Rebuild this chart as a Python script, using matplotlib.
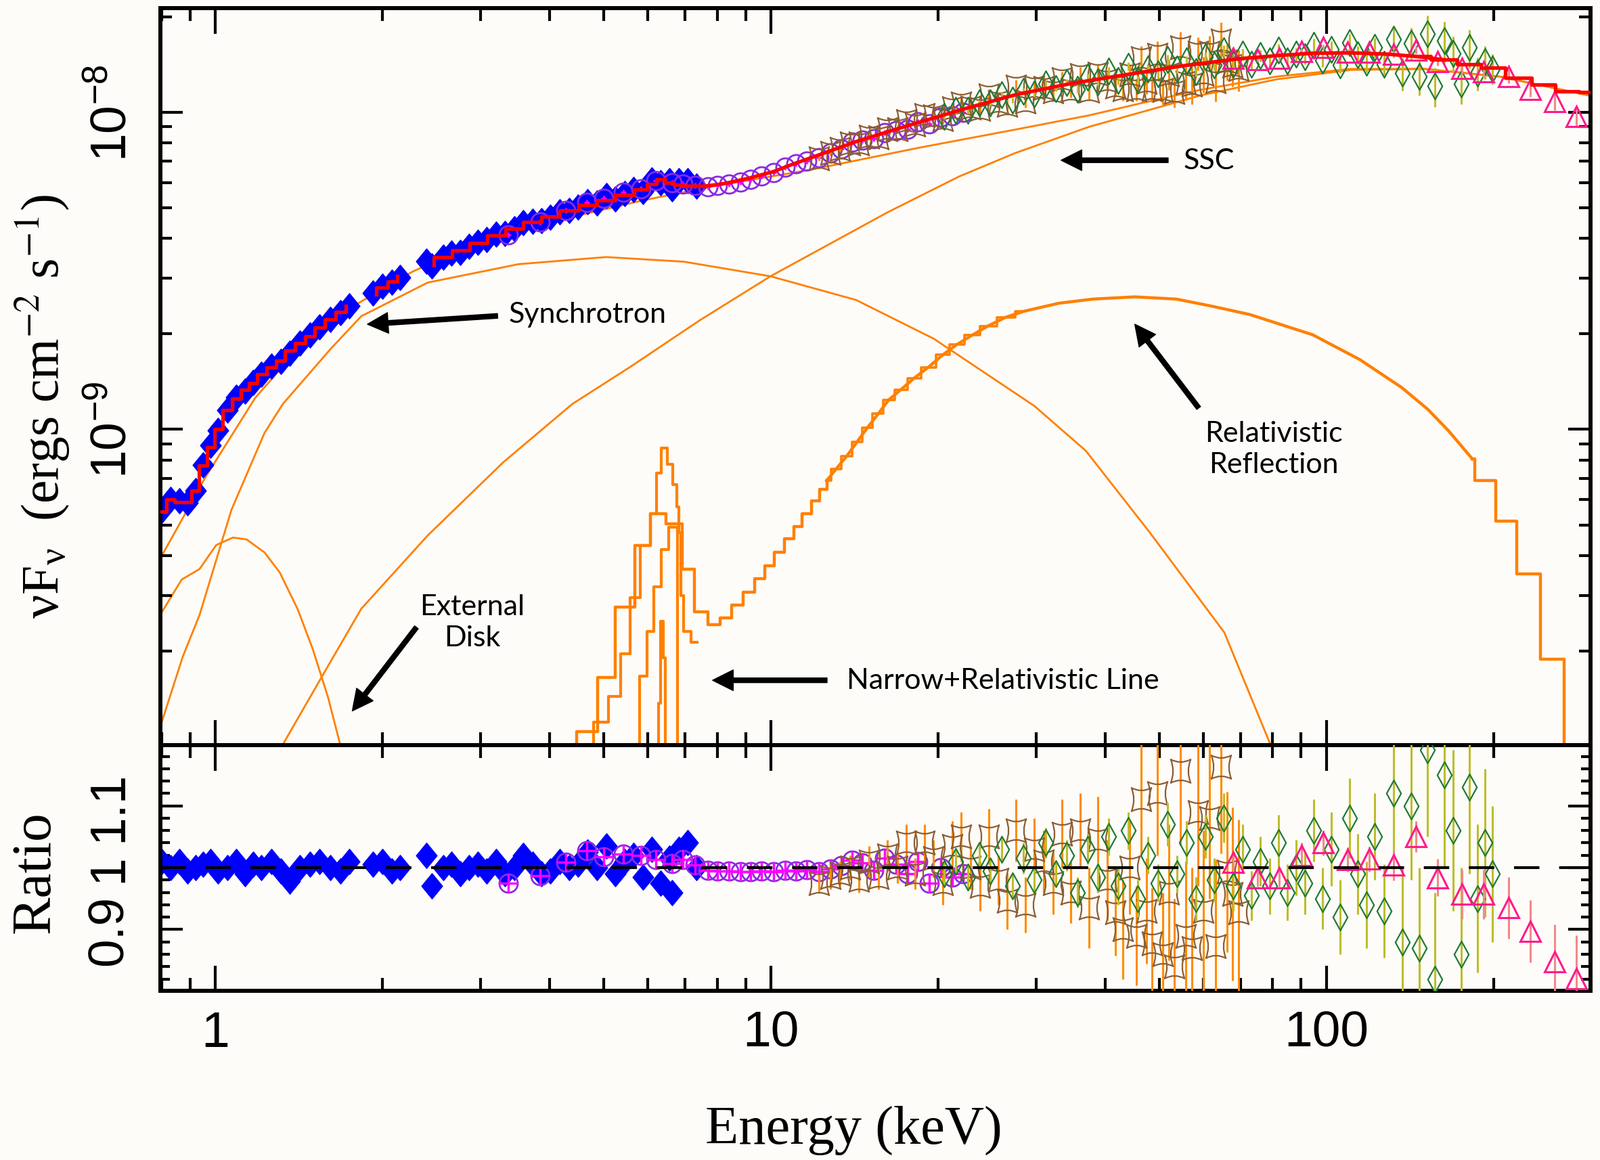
import numpy as np
import matplotlib.pyplot as plt
from matplotlib.path import Path
from matplotlib.ticker import FixedLocator, FixedFormatter, LogLocator, NullFormatter, MultipleLocator

plt.rcParams['font.family'] = ['Liberation Sans', 'DejaVu Sans']
plt.rcParams['mathtext.fontset'] = 'custom'
plt.rcParams['mathtext.rm'] = 'Liberation Sans'
plt.rcParams['mathtext.it'] = 'Liberation Sans:italic'

# ---- data (flux in units of 1e-9 erg cm^-2 s^-1) ----
blue_e = [0.80, 0.83, 0.86, 0.89, 0.92, 0.95, 0.98, 1.01, 1.05, 1.09, 1.13, 1.17, 1.21, 1.26, 1.31, 1.36,
          1.42, 1.48, 1.54, 1.61, 1.68, 1.74, 1.92, 2.00, 2.08, 2.15, 2.40, 2.45, 2.57, 2.66, 2.76, 2.86,
          2.97, 3.08, 3.20, 3.32, 3.45, 3.58, 3.72, 3.86, 4.01, 4.17, 4.33, 4.50, 4.68, 4.86, 5.05, 5.25,
          5.45, 5.66, 5.88, 6.10, 6.33, 6.57, 6.64, 6.82, 7.08, 7.35]
blue_flux = [0.556, 0.60, 0.596, 0.587, 0.64, 0.774, 0.889, 0.995, 1.15, 1.263, 1.317, 1.407, 1.49, 1.586,
             1.642, 1.735, 1.87, 1.98, 2.11, 2.22, 2.338, 2.454, 2.693, 2.828, 2.915, 3.02, 3.386, 3.272,
             3.50, 3.598, 3.623, 3.77, 3.899, 3.97, 4.121, 4.138, 4.29, 4.478, 4.523, 4.554, 4.677, 4.848,
             4.90, 5.025, 5.228, 5.17, 5.465, 5.326, 5.555, 5.712, 5.615, 6.129, 5.996, 6.09, 5.731, 6.077,
             6.084, 5.85]
blue_ratio = [1.01, 1.0, 1.01, 0.995, 1.0, 1.005, 1.01, 0.995, 1.0, 1.01, 0.99, 1.005, 1.0, 1.01, 0.995,
              0.978, 1.0, 1.005, 1.01, 1.0, 0.995, 1.01, 1.005, 1.01, 0.995, 1.0, 1.02, 0.971, 1.0, 1.005,
              0.99, 1.0, 1.005, 0.995, 1.01, 0.99, 1.0, 1.02, 1.005, 0.99, 0.995, 1.01, 1.0, 1.005, 1.025,
              1.0, 1.035, 0.99, 1.01, 1.02, 0.985, 1.03, 0.975, 1.015, 0.96, 1.03, 1.04, 1.0]

purple_e = [3.37, 3.84, 4.27, 4.66, 5.0, 5.43, 5.84, 6.2, 6.64, 6.95, 7.3, 7.7, 8.0, 8.4, 8.8, 9.2, 9.6,
            10.1, 10.6, 11.1, 11.6, 12.2, 12.8, 13.4, 14.0, 14.6, 15.3, 16.0, 16.8, 17.6, 18.4, 19.3,
            20.2, 21.2, 22.2]
purple_flux = [4.1, 4.5, 4.9, 5.2, 5.35, 5.6, 5.75, 6.1, 6.0, 5.95, 5.87, 5.83, 5.87, 5.95, 6.03, 6.16,
               6.3, 6.47, 6.7, 6.87, 7.03, 7.2, 7.43, 7.67, 8.05, 8.17, 8.27, 8.63, 8.75, 8.86, 9.34,
               9.21, 9.65, 9.75, 10.0]
purple_ratio = [0.975, 0.987, 1.009, 1.027, 1.018, 1.022, 1.02, 1.013, 1.007, 1.013, 1.004, 0.996, 0.995,
                0.995, 0.993, 0.993, 0.995, 0.994, 0.996, 0.995, 0.997, 0.993, 0.998, 1.003, 1.012, 1.008,
                0.996, 1.015, 1.006, 0.99, 1.01, 0.975, 1.0, 0.985, 0.99]

brown_e = [12.2, 12.8, 13.3, 13.9, 14.4, 15.0, 15.6, 16.2, 16.9, 17.5, 18.2, 18.9, 19.6, 20.4, 21.2, 22.0,
           22.9, 23.8, 24.7, 25.7, 26.6, 27.6, 28.7, 29.8, 31.0, 32.2, 33.4, 34.7, 36.0, 37.4, 38.8, 40.3,
           41.7, 43.0, 44.2, 45.5, 46.4, 47.5, 48.5, 49.6, 50.8, 52.0, 53.3, 54.6, 55.9, 57.3, 58.7, 60.1,
           61.6, 63.1, 64.6, 66.2, 67.8, 69.4]
brown_flux = [7.16, 7.45, 7.66, 7.96, 7.96, 8.38, 8.35, 8.83, 8.86, 9.38, 9.13, 9.78, 9.71, 9.52, 10.30,
              10.65, 10.35, 10.23, 11.28, 10.74, 10.55, 12.04, 10.81, 12.0, 11.92, 11.64, 12.74, 11.74,
              13.11, 11.72, 13.25, 12.57, 12.05, 11.79, 13.19, 11.83, 14.82, 12.49, 11.84, 15.2, 11.74,
              13.18, 11.6, 16.05, 12.42, 12.21, 15.4, 13.22, 15.43, 12.55, 16.82, 14.45, 14.01, 13.68]
brown_ratio = [0.975, 0.985, 0.99, 1.0, 0.98, 1.01, 0.985, 1.02, 1.0, 1.04, 0.99, 1.04, 1.015, 0.975, 1.035,
               1.05, 1.0, 0.97, 1.05, 0.98, 0.946, 1.06, 0.94, 1.03, 1.01, 0.975, 1.055, 0.96, 1.06, 0.935,
               1.045, 0.98, 0.928, 0.90, 1.0, 0.89, 1.11, 0.93, 0.877, 1.12, 0.86, 0.96, 0.84, 1.156, 0.89,
               0.87, 1.09, 0.93, 1.08, 0.873, 1.163, 0.993, 0.957, 0.928]
brown_err = [0.015, 0.02, 0.02, 0.02, 0.02, 0.025, 0.02, 0.025, 0.025, 0.03, 0.025, 0.03, 0.03, 0.035, 0.04,
             0.04, 0.035, 0.04, 0.045, 0.04, 0.045, 0.05, 0.045, 0.05, 0.05, 0.05, 0.055, 0.05, 0.06, 0.065,
             0.07, 0.065, 0.07, 0.08, 0.075, 0.08, 0.09, 0.085, 0.09, 0.1, 0.1, 0.11, 0.11, 0.12, 0.12, 0.13,
             0.12, 0.13, 0.13, 0.14, 0.14, 0.13, 0.14, 0.15]

green_e = [20.5, 21.5, 22.6, 23.7, 24.8, 26.0, 27.2, 28.5, 29.8, 31.2, 32.6, 34.1, 35.6, 37.2, 38.8, 40.5,
           42.2, 44.0, 45.8, 47.7, 49.7, 51.7, 53.8, 56.0, 58.2, 60.5, 62.9, 65.4, 68.0, 70.6, 73.3, 76.1,
           79.0, 82.0, 85.1, 88.3, 91.6, 95.0, 98.5, 102, 106, 110, 114, 118, 122, 127, 132, 137, 142, 147,
           152, 157, 163, 169, 175, 181, 187, 193, 199]
green_flux = [9.69, 10.12, 10.12, 10.73, 10.72, 11.35, 10.93, 11.65, 11.42, 12.29, 11.86, 12.4, 11.84, 12.88,
              12.49, 13.48, 12.62, 13.96, 12.65, 13.71, 13.2, 14.63, 13.68, 14.54, 13.41, 14.95, 14.07, 15.66,
              14.2, 15.22, 14.18, 15.07, 14.55, 15.68, 14.54, 15.22, 14.92, 16.28, 14.59, 15.82, 14.12, 16.56,
              15.16, 14.37, 16.03, 14.18, 17.0, 13.29, 16.5, 12.98, 17.67, 12.1, 16.81, 15.32, 12.3, 15.99,
              13.3, 14.46, 13.71]
green_ratio = [0.99, 1.01, 0.985, 1.02, 0.995, 1.03, 0.97, 1.015, 0.98, 1.04, 0.99, 1.02, 0.96, 1.03, 0.985,
               1.05, 0.97, 1.06, 0.95, 1.02, 0.975, 1.07, 0.99, 1.04, 0.95, 1.05, 0.98, 1.08, 0.97, 1.03,
               0.955, 1.01, 0.97, 1.04, 0.96, 1.0, 0.975, 1.06, 0.95, 1.03, 0.92, 1.08, 0.99, 0.94, 1.05, 0.93,
               1.12, 0.88, 1.10, 0.87, 1.19, 0.82, 1.15, 1.06, 0.86, 1.13, 0.95, 1.04, 0.99]
green_err = [0.02, 0.02, 0.02, 0.02, 0.02, 0.02, 0.02, 0.025, 0.02, 0.025, 0.02, 0.025, 0.025, 0.025, 0.025,
             0.03, 0.03, 0.03, 0.03, 0.03, 0.03, 0.035, 0.03, 0.035, 0.035, 0.035, 0.035, 0.04, 0.04, 0.04,
             0.04, 0.04, 0.045, 0.045, 0.045, 0.045, 0.05, 0.05, 0.05, 0.06, 0.06, 0.065, 0.065, 0.07, 0.07,
             0.075, 0.1, 0.12, 0.12, 0.13, 0.14, 0.14, 0.15, 0.13, 0.14, 0.14, 0.12, 0.12, 0.11]

pink_e = [67.9, 75.1, 82.3, 90.1, 98.6, 109.1, 119.4, 132.3, 144.8, 158.5, 175.5, 192, 212.7, 232.8, 257.8, 282.2]
pink_flux = [14.8, 14.7, 14.8, 15.55, 16.0, 15.5, 15.5, 15.26, 15.7, 14.47, 13.73, 13.4, 13.0, 11.8, 10.8, 9.7]
pink_ratio = [1.009, 0.984, 0.984, 1.02, 1.04, 1.013, 1.014, 1.004, 1.05, 0.984, 0.957, 0.957, 0.935, 0.897,
              0.848, 0.821]
pink_err = [0.015, 0.015, 0.015, 0.02, 0.02, 0.02, 0.02, 0.025, 0.025, 0.03, 0.04, 0.04, 0.05, 0.05, 0.06, 0.07]

# total folded model (red)
model_e = [0.80, 0.83, 0.86, 0.89, 0.92, 0.95, 0.98, 1.01, 1.05, 1.09, 1.13, 1.17, 1.21, 1.26, 1.31, 1.36,
           1.42, 1.48, 1.54, 1.61, 1.68, 1.75, np.nan, 1.90, 2.00, 2.08, 2.17, np.nan, 2.38, 2.57, 2.76,
           2.97, 3.20, 3.45, 3.72, 4.01, 4.33, 4.68, 5.05, 5.45, 5.88, 6.10, 6.33, 6.57, 6.82, 7.08, 7.6, 8.2,
           9.1, 10.1, 10.9, 12.5, 14.2, 16.3, 18.6, 22.5, 27.5, 34.5, 43.7, 55, 69.5, 82, 94.6, 111, 129,
           145, 163, 181, 199, 221, 247, 270, 300]
model_flux = [0.55, 0.60, 0.59, 0.59, 0.64, 0.77, 0.88, 1.0, 1.15, 1.25, 1.33, 1.40, 1.49, 1.57, 1.65, 1.77,
              1.87, 1.97, 2.09, 2.22, 2.35, 2.45, np.nan, 2.66, 2.80, 2.93, 3.04, np.nan, 3.30, 3.50, 3.66,
              3.88, 4.08, 4.29, 4.50, 4.70, 4.90, 5.10, 5.28, 5.50, 5.70, 5.95, 6.15, 6.0, 5.9, 5.85, 5.85,
              5.95, 6.19, 6.5, 6.84, 7.45, 8.07, 8.7, 9.33, 10.3, 11.35, 12.3, 13.15, 14.0, 14.75, 15.1,
              15.36, 15.4, 15.25, 15.0, 14.64, 14.2, 13.85, 12.86, 12.2, 11.64, 11.6]

# model components (orange)
cont_e = [0.796, 0.859, 0.954, 1.179, 1.457, 1.784, 2.26, 2.75, 3.40, 4.37, 5.81, 7.61, 11.9, 18.4, 27.54,
          37.4, 46.6, 59.3, 81.3, 110.5, 150.3, 205, 300]
cont_flux = [0.393, 0.499, 0.696, 1.258, 1.919, 2.467, 3.14, 3.68, 4.11, 4.67, 5.25, 5.78, 6.61, 7.72, 8.82,
             9.78, 10.7, 11.77, 12.96, 13.7, 13.7, 12.96, 11.26]
sync_e = [0.796, 0.873, 0.936, 1.068, 1.225, 1.322, 1.612, 1.830, 2.41, 3.51, 5.05, 6.97, 9.98, 14.23, 19.63,
          29.8, 36.9, 48.1, 65.5, 79.3]
sync_flux = [0.116, 0.192, 0.260, 0.557, 0.974, 1.203, 1.795, 2.275, 2.904, 3.319, 3.495, 3.38, 3.04, 2.56,
             1.933, 1.186, 0.856, 0.473, 0.229, 0.1015]
disk_e = [0.796, 0.869, 0.936, 1.003, 1.075, 1.137, 1.225, 1.305, 1.406, 1.497, 1.594, 1.676]
disk_flux = [0.261, 0.336, 0.363, 0.432, 0.456, 0.450, 0.4095, 0.354, 0.271, 0.2025, 0.1432, 0.1018]
ssc_e = [1.322, 1.575, 1.830, 2.41, 3.30, 4.39, 5.57, 7.45, 9.98, 16.23, 21.8, 27.54, 37.4, 51.2, 59.3, 81.3,
         110.5, 150.3, 205, 300]
ssc_flux = [0.1015, 0.173, 0.272, 0.463, 0.789, 1.203, 1.571, 2.21, 3.04, 4.84, 6.27, 7.44, 9.0, 10.5, 11.3,
            12.7, 13.6, 13.7, 12.96, 11.26]
refl_lo_e = [4.0, 4.47, 4.88, 5.25, 5.69, 6.06, 6.47, 6.92, 7.29, 7.71, 8.09, 8.50, 8.92, 9.34, 9.75, 10.15,
             10.57, 11.0, 11.36, 11.83, 12.22, 12.62]
refl_lo_flux = [0.05, 0.1113, 0.165, 0.2748, 0.4301, 0.5417, 0.5029, 0.362, 0.2654, 0.2424, 0.2547, 0.2789,
                0.3073, 0.339, 0.3707, 0.4091, 0.4516, 0.4942, 0.5417, 0.5965, 0.647, 0.69]
refl_mid_e = [12.6, 13.1, 13.7, 14.3, 14.9, 15.6, 16.3, 17.1, 18.1, 19.2, 20.4, 21.6, 23.0, 24.6, 26.5, 28.6,
              33.0, 37.96, 45.16, 53.7, 62.0, 72.8, 94.5, 114.9, 136.6, 152.3, 166.1, 183.2]
refl_mid_flux = [0.69, 0.75, 0.825, 0.915, 1.01, 1.12, 1.24, 1.33, 1.45, 1.57, 1.72, 1.85, 1.98, 2.12, 2.26,
                 2.36, 2.50, 2.576, 2.618, 2.576, 2.45, 2.303, 1.988, 1.66, 1.356, 1.157, 0.988, 0.807]
refl_hi_e = [183.2, 185.2, 202, 220.3, 242.9, 267.9, 300]
refl_hi_flux = [0.807, 0.689, 0.514, 0.3504, 0.1884, 0.05, 0.05]
line_a_e = [4.68, 4.92, 5.29, 5.45, 5.69, 5.96, 6.16, 6.27, 6.43, 6.57, 6.74, 6.79, 6.85, 6.91, 7.0, 7.36]
line_a_flux = [0.1015, 0.1195, 0.1437, 0.1962, 0.2947, 0.4301, 0.5417, 0.727, 0.875, 0.777, 0.670, 0.5693,
               0.4733, 0.2991, 0.2308, 0.2128]
line_b_e = [5.5, 5.6, 5.8, 5.98, 6.16, 6.35, 6.54, 6.79]
line_b_flux = [0.08, 0.1015, 0.1667, 0.2308, 0.3197, 0.4174, 0.4913, 0.05]
line_c_e = [6.15, 6.27, 6.33, 6.40, 6.45]
line_c_flux = [0.05, 0.137, 0.2485, 0.19, 0.05]

# ---- styles ----
BG = '#fefcf9'
ORANGE = '#ff8000'
e9 = 1e-9

diamond = Path([(0, 1), (0.82, 0), (0, -1), (-0.82, 0), (0, 1)],
               [Path.MOVETO, Path.LINETO, Path.LINETO, Path.LINETO, Path.CLOSEPOLY])
thin_diamond = Path([(0, 1), (0.55, 0), (0, -1), (-0.55, 0), (0, 1)],
                    [Path.MOVETO, Path.LINETO, Path.LINETO, Path.LINETO, Path.CLOSEPOLY])
C3 = Path.CURVE3
star = Path([(-0.85, 1), (0, 0.55), (0.85, 1), (0.45, 0), (0.85, -1), (0, -0.55), (-0.85, -1),
             (-0.45, 0), (-0.85, 1), (0, 0)],
            [Path.MOVETO, C3, C3, C3, C3, C3, C3, C3, C3, Path.CLOSEPOLY])

fig = plt.figure(figsize=(23.64, 17.15), dpi=100, facecolor=BG)
ax = fig.add_axes([0.1003, 0.3574, 0.8938, 0.6350])
axr = fig.add_axes([0.1003, 0.1458, 0.8938, 0.2116], sharex=ax)

# ---- top panel ----
for xe, yf in [(cont_e, cont_flux), (sync_e, sync_flux), (disk_e, disk_flux), (ssc_e, ssc_flux)]:
    ax.plot(xe, np.array(yf) * e9, color=ORANGE, lw=2.0, zorder=1)
ax.plot(refl_lo_e, np.array(refl_lo_flux) * e9, color=ORANGE, lw=3.2, drawstyle='steps-post', zorder=1)
ax.plot(refl_mid_e, np.array(refl_mid_flux) * e9, color=ORANGE, lw=3.2, zorder=1)
ax.plot(refl_mid_e[:16], np.array(refl_mid_flux[:16]) * e9, color=ORANGE, lw=2.6, drawstyle='steps-mid', zorder=1)
ax.plot(refl_hi_e, np.array(refl_hi_flux) * e9, color=ORANGE, lw=3.2, drawstyle='steps-post', zorder=1)
ax.plot(line_a_e, np.array(line_a_flux) * e9, color=ORANGE, lw=3.0, drawstyle='steps-mid', zorder=1)
ax.plot(line_b_e, np.array(line_b_flux) * e9, color=ORANGE, lw=3.0, drawstyle='steps-post', zorder=1)
ax.plot(line_c_e, np.array(line_c_flux) * e9, color=ORANGE, lw=3.0, drawstyle='steps-post', zorder=1)

bf = np.array(blue_flux) * e9
ax.plot(blue_e, bf, ls='none', marker=diamond, ms=27, mfc='#0000ff', mec='#0000ff', zorder=2)
pf = np.array(purple_flux) * e9
ax.plot(purple_e, pf, ls='none', marker='o', ms=19.5, mfc='none', mec='#8a2be2', mew=2, zorder=3)
ax.plot(purple_e, pf, ls='none', marker='+', ms=6, mec='#ff00ff', mew=2, zorder=3)
brf = np.array(brown_flux) * e9
ax.errorbar(brown_e, brf, yerr=brf * np.array(brown_err), fmt='none', ecolor='#ff8c00', elinewidth=2.2, zorder=3)
ax.plot(brown_e, brf, ls='none', marker=star, ms=25, mfc='none', mec='#8b5e34', mew=1.6, zorder=3)
gf = np.array(green_flux) * e9
ax.errorbar(green_e, gf, yerr=gf * np.array(green_err), fmt='none', ecolor='#bdbd2a', elinewidth=2.2, zorder=3)
ax.plot(green_e, gf, ls='none', marker=thin_diamond, ms=28, mfc='none', mec='#1f7a35', mew=1.6, zorder=3)
kf = np.array(pink_flux) * e9
ax.errorbar(pink_e, kf, yerr=kf * np.array(pink_err), fmt='none', ecolor='#f08a8a', elinewidth=2.2, zorder=3)
ax.plot(pink_e, kf, ls='none', marker='^', ms=21, mfc='none', mec='#ff1a8c', mew=2.2, zorder=3)

me = np.array(model_e)
mf = np.array(model_flux) * e9
lo = np.isnan(me) | (me <= 7.6)
mid = (me >= 7.08) & (me <= 163)
hi = me >= 145
ax.plot(me[lo], mf[lo], color='#ff0000', lw=3.8, drawstyle='steps-mid', zorder=4)
ax.plot(me[mid], mf[mid], color='#ff0000', lw=3.8, zorder=4)
ax.plot(me[hi], mf[hi], color='#ff0000', lw=3.8, drawstyle='steps-mid', zorder=4)

# annotations
afont = dict(family=['Lato', 'DejaVu Sans'], fontsize=31, color='k')
arrow = dict(facecolor='k', edgecolor='k', width=5, headwidth=22, headlength=22, shrink=0)
ax.annotate('', xy=(33.3, 7.06e-9), xytext=(51.9, 7.06e-9), arrowprops=arrow, zorder=5)
ax.text(55.3, 7.06e-9, 'SSC', ha='left', va='center', **afont)
ax.annotate('', xy=(1.877, 2.146e-9), xytext=(3.22, 2.28e-9), arrowprops=arrow, zorder=5)
ax.text(3.37, 2.31e-9, 'Synchrotron', ha='left', va='center', **afont)
ax.annotate('', xy=(45.2, 2.146e-9), xytext=(58.9, 1.168e-9), arrowprops=arrow, zorder=5)
ax.text(80.3, 0.869e-9, 'Relativistic\nReflection', ha='center', va='center', linespacing=1.25, **afont)
ax.annotate('', xy=(1.763, 0.1295e-9), xytext=(2.30, 0.2377e-9), arrowprops=arrow, zorder=5)
ax.text(2.90, 0.2467e-9, 'External\nDisk', ha='center', va='center', linespacing=1.25, **afont)
ax.annotate('', xy=(7.85, 0.1618e-9), xytext=(12.62, 0.1618e-9), arrowprops=arrow, zorder=5)
ax.text(13.68, 0.1618e-9, 'Narrow+Relativistic Line', ha='left', va='center', **afont)

# ---- ratio panel ----
axr.plot(blue_e, blue_ratio, ls='none', marker=diamond, ms=27, mfc='#0000ff', mec='#0000ff', zorder=2)
axr.plot(purple_e, purple_ratio, ls='none', marker='o', ms=19.5, mfc='none', mec='#8a2be2', mew=2, zorder=3)
axr.plot(purple_e, purple_ratio, ls='none', marker='+', ms=20, mec='#ff00ff', mew=2.5, zorder=3)
axr.errorbar(brown_e, brown_ratio, yerr=brown_err, fmt='none', ecolor='#ff8c00', elinewidth=2.2, zorder=3)
axr.plot(brown_e, brown_ratio, ls='none', marker=star, ms=25, mfc='none', mec='#8b5e34', mew=1.6, zorder=3)
axr.errorbar(green_e, green_ratio, yerr=green_err, fmt='none', ecolor='#bdbd2a', elinewidth=2.2, zorder=3)
axr.plot(green_e, green_ratio, ls='none', marker=thin_diamond, ms=28, mfc='none', mec='#1f7a35', mew=1.6, zorder=3)
axr.errorbar(pink_e, pink_ratio, yerr=pink_err, fmt='none', ecolor='#f08a8a', elinewidth=2.2, zorder=3)
axr.plot(pink_e, pink_ratio, ls='none', marker='^', ms=21, mfc='none', mec='#ff1a8c', mew=2.2, zorder=3)
axr.axhline(1.0, color='k', lw=3, ls=(0, (9, 7)), zorder=6)

# ---- axes formatting ----
for a in (ax, axr):
    a.set_facecolor(BG)
    a.set_xscale('log')
    for s in a.spines.values():
        s.set_linewidth(4.3)
    a.tick_params(which='both', direction='in', top=True, right=True, width=3, color='k')
    a.tick_params(axis='x', which='major', length=27)
    a.tick_params(axis='x', which='minor', length=14)

ax.set_yscale('log')
ax.set_xlim(0.796, 299)
ax.set_ylim(1.01e-10, 2.13e-8)
axr.set_ylim(0.801, 1.198)

axr.xaxis.set_major_locator(FixedLocator([1, 10, 100]))
axr.xaxis.set_major_formatter(FixedFormatter(['1', '10', '100']))
axr.xaxis.set_minor_locator(LogLocator(base=10, subs=np.arange(2, 10)))
axr.xaxis.set_minor_formatter(NullFormatter())
ax.tick_params(axis='x', which='both', labelbottom=False)
axr.tick_params(axis='x', labelsize=54, pad=20)

ax.yaxis.set_major_locator(FixedLocator([1e-9, 1e-8]))
ax.yaxis.set_major_formatter(FixedFormatter([r'$10^{-9}$', r'$10^{-8}$']))
ax.yaxis.set_minor_locator(LogLocator(base=10, subs=np.arange(2, 10)))
ax.yaxis.set_minor_formatter(NullFormatter())
ax.tick_params(axis='y', which='major', length=24, labelsize=54, labelrotation=90, pad=26)
ax.tick_params(axis='y', which='minor', length=12)

axr.yaxis.set_major_locator(FixedLocator([0.9, 1.0, 1.1]))
axr.yaxis.set_major_formatter(FixedFormatter(['0.9', '1', '1.1']))
axr.yaxis.set_minor_locator(MultipleLocator(0.02))
axr.tick_params(axis='y', which='major', length=24, labelsize=54, labelrotation=90, pad=30)
axr.tick_params(axis='y', which='minor', length=10)
for lab in ax.get_yticklabels() + axr.get_yticklabels():
    lab.set_va('center')

serif = ['Liberation Serif', 'DejaVu Serif']
fig.text(0.0267, 0.650, r'$\mathregular{νF_{ν}}$  (ergs cm$^{-2}$ s$^{-1}$)', rotation=90, ha='center',
         va='center', fontsize=56, family=serif, math_fontfamily='stix')
fig.text(0.0224, 0.2484, 'Ratio', rotation=90, ha='center', va='center', fontsize=60, family=serif)
fig.text(0.5334, 0.026, 'Energy (keV)', ha='center', va='center', fontsize=58, family=serif)

fig.savefig('out.png', dpi=100, facecolor=BG)
